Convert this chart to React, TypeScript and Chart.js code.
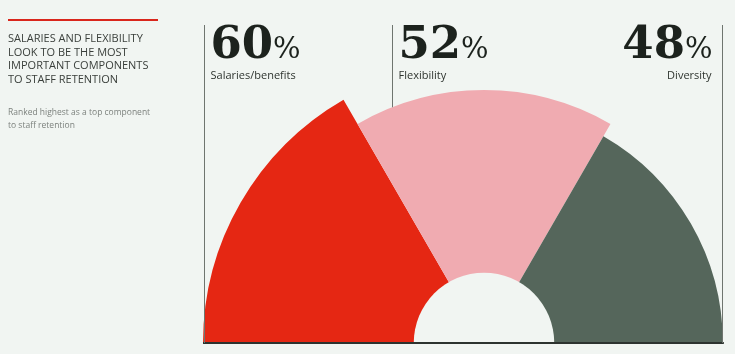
import React, { useEffect, useRef } from 'react';
import { Chart, registerables } from 'chart.js';

Chart.register(...registerables);

const categories = ['Salaries/benefits', 'Flexibility', 'Diversity'];
const values = [60, 52, 48];
const sliceColors = ['#e52713', '#f0abb1', '#55665b'];
const titleLines = ['SALARIES AND FLEXIBILITY', 'LOOK TO BE THE MOST', 'IMPORTANT COMPONENTS', 'TO STAFF RETENTION'];
const subtitleLines = ['Ranked highest as a top component', 'to staff retention'];

const BG = '#f1f5f2';
const CANVAS_W = 765;
const CANVAS_H = 624;

const decorPlugin = {
  id: 'decor',
  afterDatasetsDraw(chart: any) {
    const ctx = chart.ctx;
    const r = chart.scales.r;
    const cx = r.xCenter;
    const cy = r.yCenter;
    const hole = r.getDistanceFromCenterForValue(0);
    const radii = values.map((v) => r.getDistanceFromCenterForValue(v));
    ctx.save();
    // inner hole
    ctx.fillStyle = BG;
    ctx.beginPath();
    ctx.arc(cx, cy, hole, 0, Math.PI * 2);
    ctx.fill();
    // baseline
    ctx.strokeStyle = '#2d332f';
    ctx.lineWidth = 2;
    ctx.beginPath();
    ctx.moveTo(cx - radii[0], cy);
    ctx.lineTo(cx + radii[2] + 1, cy);
    ctx.stroke();

    // vertical leader lines
    const topY = 25;
    const xs = [Math.round(cx - radii[0]) + 1.5, 392.5, Math.round(cx + radii[2]) - 0.5];
    const ends = [cy, cy - Math.sqrt(radii[1] * radii[1] - (xs[1] - cx) * (xs[1] - cx)), cy];
    ctx.strokeStyle = '#6f756f';
    ctx.lineWidth = 1;
    xs.forEach((x, i) => {
      ctx.beginPath();
      ctx.moveTo(x, topY);
      ctx.lineTo(x, ends[i]);
      ctx.stroke();
    });

    // labels
    const numFont = 'bold 45px "DejaVu Serif"';
    const pctFont = '29px "DejaVu Serif"';
    const catFont = '11px "Open Sans"';
    const numBase = 58;
    const catBase = 79;
    values.forEach((v, i) => {
      const num = String(v);
      ctx.font = numFont;
      const wNum = ctx.measureText(num).width;
      ctx.font = pctFont;
      const wPct = ctx.measureText('%').width;
      const rightAlign = i === values.length - 1;
      const startX = rightAlign ? xs[i] - 10 - (wNum + wPct) : xs[i] + 6;
      ctx.textBaseline = 'alphabetic';
      ctx.textAlign = 'left';
      ctx.fillStyle = '#1c221d';
      ctx.font = numFont;
      ctx.fillText(num, startX, numBase);
      ctx.font = pctFont;
      ctx.fillText('%', startX + wNum, numBase);
      ctx.font = catFont;
      ctx.fillStyle = '#2f3530';
      if (rightAlign) {
        ctx.textAlign = 'right';
        ctx.fillText(categories[i], xs[i] - 11, catBase);
      } else {
        ctx.fillText(categories[i], xs[i] + 6, catBase);
      }
    });
    ctx.restore();
  },
};

export default function App() {
  const ref = useRef<HTMLCanvasElement | null>(null);

  useEffect(() => {
    document.body.style.margin = '0';
    document.body.style.background = BG;
    const canvas = ref.current;
    if (!canvas) return;
    const chart = new Chart(canvas, {
      type: 'polarArea',
      data: {
        labels: categories,
        datasets: [
          {
            data: values,
            backgroundColor: sliceColors,
            borderWidth: 0,
            angle: 60,
          } as any,
        ],
      },
      options: {
        animation: false,
        responsive: false,
        maintainAspectRatio: false,
        layout: { padding: { left: 203, top: 62, right: 0, bottom: 0 } },
        plugins: { legend: { display: false }, tooltip: { enabled: false }, title: { display: false } },
        scales: {
          r: {
            min: -20,
            max: 60,
            startAngle: -90,
            ticks: { display: false },
            grid: { display: false },
            angleLines: { display: false },
            pointLabels: { display: false },
          },
        },
      } as any,
      plugins: [decorPlugin],
    });
    return () => chart.destroy();
  }, []);

  return (
    <div style={{ position: 'relative', width: 735, height: 354, overflow: 'hidden', background: BG }}>
      <canvas ref={ref} width={CANVAS_W} height={CANVAS_H} style={{ position: 'absolute', left: 0, top: 0 }} />
      <div style={{ position: 'absolute', left: 8, top: 19, width: 150, height: 2, background: '#d9261c' }} />
      <div
        style={{
          position: 'absolute',
          left: 8,
          top: 31,
          fontFamily: '"Open Sans", sans-serif',
          fontSize: 11,
          lineHeight: '13.5px',
          color: '#3a3f3b',
          whiteSpace: 'nowrap',
        }}
      >
        {titleLines.map((t, i) => (
          <div key={i}>{t}</div>
        ))}
      </div>
      <div
        style={{
          position: 'absolute',
          left: 8,
          top: 105,
          fontFamily: '"Open Sans", sans-serif',
          fontSize: 8.5,
          lineHeight: '13px',
          color: '#7d827e',
          whiteSpace: 'nowrap',
        }}
      >
        {subtitleLines.map((t, i) => (
          <div key={i}>{t}</div>
        ))}
      </div>
    </div>
  );
}
